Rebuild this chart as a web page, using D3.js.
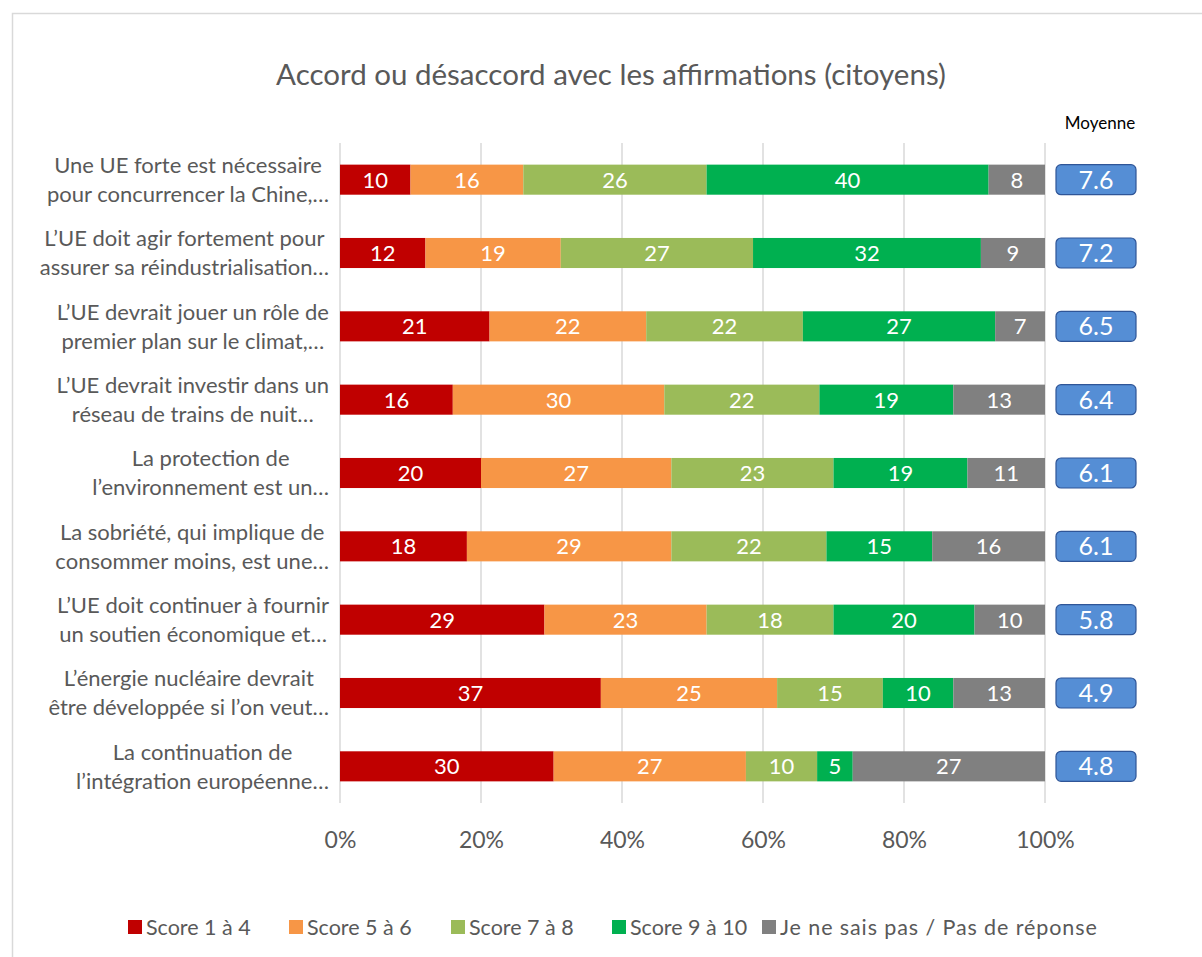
<!DOCTYPE html>
<html><head><meta charset="utf-8">
<script src="https://cdn.jsdelivr.net/npm/d3@7"></script>
<style>body{margin:0;background:#fff;} svg{display:block;}</style>
</head><body>
<svg id="chart" width="1202" height="957"></svg>
<script>
const categories = [
  ["Une UE forte est nécessaire", "pour concurrencer la Chine,…"],
  ["L’UE doit agir fortement pour", "assurer sa réindustrialisation…"],
  ["L’UE devrait jouer un rôle de", "premier plan sur le climat,…"],
  ["L’UE devrait investir dans un", "réseau de trains de nuit…"],
  ["La protection de", "l’environnement est un…"],
  ["La sobriété, qui implique de", "consommer moins, est une…"],
  ["L’UE doit continuer à fournir", "un soutien économique et…"],
  ["L’énergie nucléaire devrait", "être développée si l’on veut…"],
  ["La continuation de", "l’intégration européenne…"]
];
const seriesNames = ["Score 1 à 4", "Score 5 à 6", "Score 7 à 8", "Score 9 à 10", "Je ne sais pas / Pas de réponse"];
const score1to4 = [10, 12, 21, 16, 20, 18, 29, 37, 30];
const score5to6 = [16, 19, 22, 30, 27, 29, 23, 25, 27];
const score7to8 = [26, 27, 22, 22, 23, 22, 18, 15, 10];
const score9to10 = [40, 32, 27, 19, 19, 15, 20, 10, 5];
const nsp = [8, 9, 7, 13, 11, 16, 10, 13, 27];
const moyenne = [7.6, 7.2, 6.5, 6.4, 6.1, 6.1, 5.8, 4.9, 4.8];
const xTicks = [0, 0.2, 0.4, 0.6, 0.8, 1.0];
const colors = ["#c00000", "#f79646", "#9bbb59", "#00b050", "#808080"];

const FONT = "Lato, 'Open Sans', sans-serif";
const svg = d3.select("#chart");
svg.append("rect").attr("x", 12.5).attr("y", 13.5).attr("width", 1200).attr("height", 960)
  .attr("fill", "#fff").attr("stroke", "#d9d9d9").attr("stroke-width", 1.5);

svg.append("text").attr("x", 611).attr("y", 85).attr("text-anchor", "middle")
  .attr("font-family", FONT).attr("font-size", 29.5).attr("fill", "#595959")
  .text("Accord ou désaccord avec les affirmations (citoyens)");

const x = d3.scaleLinear().domain([0, 1]).range([340, 1045]);
const y = d3.scaleBand().domain(d3.range(categories.length)).range([143, 803]).paddingInner(0.59).paddingOuter(0.295);

const allSeries = [score1to4, score5to6, score7to8, score9to10, nsp];
const rows = categories.map((c, i) => {
  const obj = {i};
  const tot = d3.sum(allSeries, s => s[i]);
  seriesNames.forEach((n, k) => obj[n] = allSeries[k][i] / tot);
  obj.raw = allSeries.map(s => s[i]);
  return obj;
});
const stacked = d3.stack().keys(seriesNames)(rows);

// grid
const g = svg.append("g");
g.selectAll("line.grid").data(xTicks).join("line")
  .attr("x1", d => x(d)).attr("x2", d => x(d)).attr("y1", 143).attr("y2", 803)
  .attr("stroke", "#d9d9d9").attr("stroke-width", 1.5);

// x axis labels
const xAxis = d3.axisBottom(x).tickValues(xTicks).tickFormat(d3.format(".0%")).tickSize(0);
const ax = svg.append("g").attr("transform", "translate(0,829)").call(xAxis);
ax.select(".domain").remove();
ax.selectAll("text").attr("font-family", FONT).attr("font-size", 23).attr("fill", "#595959");

// bars
stacked.forEach((layer, k) => {
  const lg = svg.append("g");
  lg.selectAll("rect").data(layer).join("rect")
    .attr("x", d => x(d[0])).attr("width", d => x(d[1]) - x(d[0]))
    .attr("y", (d, i) => y(i)).attr("height", y.bandwidth())
    .attr("fill", colors[k]);
  lg.selectAll("text").data(layer).join("text")
    .attr("x", d => (x(d[0]) + x(d[1])) / 2)
    .attr("y", (d, i) => y(i) + y.bandwidth() / 2)
    .attr("dy", "0.36em").attr("text-anchor", "middle")
    .attr("font-family", FONT).attr("font-size", 22).attr("fill", "#fff")
    .text((d, i) => rows[i].raw[k]);
});

// category labels
const labG = svg.append("g");
categories.forEach((lines, i) => {
  const cy = y(i) + y.bandwidth() / 2;
  const t = labG.append("g");
  const texts = lines.map((l, j) => t.append("text")
    .attr("y", cy + (j === 0 ? -14.5 : 14.5)).attr("dy", "0.36em")
    .attr("font-family", FONT).attr("font-size", 22).attr("fill", "#595959")
    .attr("text-anchor", "middle").text(l));
  const maxW = d3.max(texts, tx => tx.node().getComputedTextLength());
  const cx = 329 - maxW / 2;
  texts.forEach(tx => tx.attr("x", cx));
});

// Moyenne
svg.append("text").attr("x", 1100).attr("y", 129).attr("text-anchor", "middle")
  .attr("font-family", FONT).attr("font-size", 17).attr("fill", "#000").text("Moyenne");
const mg = svg.append("g");
mg.selectAll("rect").data(moyenne).join("rect")
  .attr("x", 1056).attr("width", 80)
  .attr("y", (d, i) => y(i) + y.bandwidth() / 2 - 15).attr("height", 30)
  .attr("rx", 5).attr("fill", "#558ed5").attr("stroke", "#2f5597").attr("stroke-width", 1.2);
mg.selectAll("text").data(moyenne).join("text")
  .attr("x", 1096).attr("y", (d, i) => y(i) + y.bandwidth() / 2).attr("dy", "0.36em")
  .attr("text-anchor", "middle").attr("font-family", FONT).attr("font-size", 25).attr("fill", "#fff")
  .text(d => d.toFixed(1));

// legend
const legX = [128, 289, 451, 612, 762];
const lgd = svg.append("g");
seriesNames.forEach((n, k) => {
  lgd.append("rect").attr("x", legX[k]).attr("y", 920).attr("width", 14).attr("height", 14).attr("fill", colors[k]);
  lgd.append("text").attr("x", legX[k] + 18).attr("y", 927).attr("dy", "0.36em")
    .attr("font-family", FONT).attr("font-size", 21.5).attr("fill", "#595959")
    .attr("letter-spacing", k === 4 ? 0.9 : 0).text(n);
});
</script>
</body></html>
